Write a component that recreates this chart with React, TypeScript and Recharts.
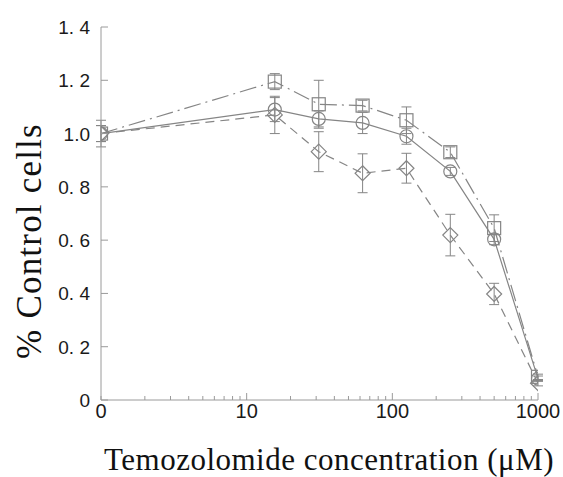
import { ScatterChart, Scatter, XAxis, YAxis, ErrorBar } from 'recharts'

// concentrations in µM ("0" plotted at 1 on the log axis)
const conc = [1, 15.6, 31.25, 62.5, 125, 250, 500, 1000]

const squareVals = [1.0, 1.195, 1.11, 1.105, 1.05, 0.93, 0.645, 0.087]
const squareErr = [0.03, 0.03, 0.09, 0.02, 0.05, 0.02, 0.05, 0.01]

const circleVals = [1.0, 1.09, 1.055, 1.04, 0.99, 0.858, 0.603, 0.08]
const circleErr = [0.03, 0.045, 0.03, 0.04, 0.03, 0.015, 0.02, 0.01]

const diamondVals = [1.0, 1.07, 0.932, 0.851, 0.87, 0.619, 0.398, 0.063]
const diamondErr = [0.05, 0.07, 0.075, 0.073, 0.056, 0.078, 0.04, 0.01]

const xTicks = [1, 2, 3, 4, 5, 6, 7, 8, 9, 10, 20, 30, 40, 50, 60, 70, 80, 90, 100, 200, 300, 400, 500, 600, 700, 800, 900, 1000]
const xMajorLabels: Record<number, string> = { 1: '0', 10: '10', 100: '100', 1000: '1000' }

const yTicks = [0, 0.2, 0.4, 0.6, 0.8, 1.0, 1.2, 1.4]
const yLabels = ['0', '0. 2', '0. 4', '0. 6', '0. 8', '1.0', '1. 2', '1. 4']

const toRows = (vals: number[], errs: number[]) =>
  conc.map((x, i) => ({ x, y: vals[i], err: errs[i] }))

const AXIS = '#9a9a9a'
const LINE = '#858585'
const FONT = '"Liberation Sans", Arial, sans-serif'
const SERIF = '"Liberation Serif", "Times New Roman", serif'

const XTick = (props: any) => {
  const { x, y, payload } = props
  const label = xMajorLabels[payload.value]
  const major = label !== undefined && payload.value !== 1
  return (
    <g>
      <line x1={x} x2={x} y1={y} y2={y - (major ? 7 : 4)} stroke={AXIS} />
      {label !== undefined && (
        <text x={x} y={y + 18} textAnchor="middle" fontSize={20} fontFamily={FONT} fill="#1a1a1a">
          {label}
        </text>
      )}
    </g>
  )
}

const YTick = (props: any) => {
  const { x, y, payload, index } = props
  return (
    <g>
      <line x1={x} x2={x + 7} y1={y} y2={y} stroke={AXIS} />
      <text x={x - 11} y={y + 7} textAnchor="end" fontSize={19} fontFamily={FONT} fill="#1a1a1a">
        {yLabels[index] ?? String(payload.value)}
      </text>
    </g>
  )
}

const Square = (p: any) => (
  <rect x={p.cx - 6.5} y={p.cy - 6.5} width={13} height={13} fill="none" stroke={LINE} strokeWidth={1.2} />
)
const Circle = (p: any) => <circle cx={p.cx} cy={p.cy} r={6.5} fill="none" stroke={LINE} strokeWidth={1.2} />
const Diamond = (p: any) => (
  <path
    d={`M${p.cx},${p.cy - 7.5} L${p.cx + 7.5},${p.cy} L${p.cx},${p.cy + 7.5} L${p.cx - 7.5},${p.cy} Z`}
    fill="none"
    stroke={LINE}
    strokeWidth={1.2}
  />
)

export default function App() {
  return (
    <div style={{ position: 'relative', width: 563, height: 477, background: '#fff', overflow: 'hidden' }}>
      <style>{`body{margin:0}`}</style>
      <ScatterChart width={563} height={477} margin={{ top: 27, right: 25, bottom: 37, left: 0 }}>
        <XAxis
          type="number"
          dataKey="x"
          scale="log"
          domain={[1, 1000]}
          ticks={xTicks}
          interval={0}
          allowDataOverflow
          height={40}
          tickSize={0}
          tickMargin={0}
          stroke={AXIS}
          tick={<XTick />}
        />
        <YAxis
          type="number"
          dataKey="y"
          domain={[0, 1.4]}
          ticks={yTicks}
          interval={0}
          width={101}
          tickSize={0}
          tickMargin={0}
          stroke={AXIS}
          tick={<YTick />}
        />
        <Scatter
          data={toRows(squareVals, squareErr)}
          line={{ stroke: LINE, strokeWidth: 1.2, strokeDasharray: '17 5 2 5' }}
          lineType="joint"
          shape={<Square />}
          isAnimationActive={false}
        >
          <ErrorBar dataKey="err" direction="y" width={5} stroke={LINE} strokeWidth={1} />
        </Scatter>
        <Scatter
          data={toRows(circleVals, circleErr)}
          line={{ stroke: LINE, strokeWidth: 1.2 }}
          lineType="joint"
          shape={<Circle />}
          isAnimationActive={false}
        >
          <ErrorBar dataKey="err" direction="y" width={5} stroke={LINE} strokeWidth={1} />
        </Scatter>
        <Scatter
          data={toRows(diamondVals, diamondErr)}
          line={{ stroke: LINE, strokeWidth: 1.2, strokeDasharray: '9 6' }}
          lineType="joint"
          shape={<Diamond />}
          isAnimationActive={false}
        >
          <ErrorBar dataKey="err" direction="y" width={5} stroke={LINE} strokeWidth={1} />
        </Scatter>
      </ScatterChart>
      <div
        style={{
          position: 'absolute',
          left: 0,
          width: 658,
          top: 444,
          lineHeight: 1,
          textAlign: 'center',
          fontFamily: SERIF,
          fontSize: 31,
          letterSpacing: 0.5,
          color: '#111',
          whiteSpace: 'nowrap',
        }}
      >
        Temozolomide concentration (μM)
      </div>
      <div
        style={{
          position: 'absolute',
          left: 29,
          top: 241,
          lineHeight: 1,
          transform: 'translate(-50%, -50%) rotate(-90deg)',
          fontFamily: SERIF,
          fontSize: 35,
          letterSpacing: 1.2,
          color: '#111',
          whiteSpace: 'nowrap',
        }}
      >
        % Control cells
      </div>
    </div>
  )
}
